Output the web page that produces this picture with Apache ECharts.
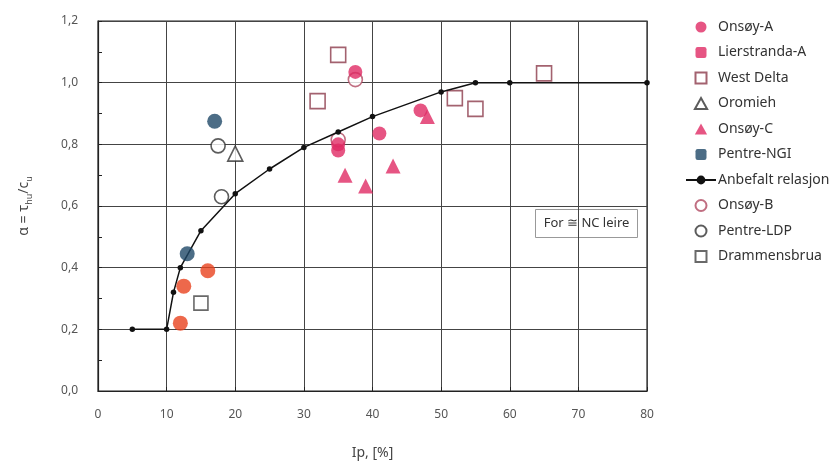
<!DOCTYPE html>
<html>
<head>
<meta charset="utf-8">
<script src="https://cdn.jsdelivr.net/npm/echarts@6/dist/echarts.min.js"></script>
<style>html,body{margin:0;padding:0;background:#fff}#c{width:838px;height:469px}</style>
</head>
<body>
<div id="c"></div>
<script>
// Recommended relation (Anbefalt relasjon)
const lineIp = [5, 10, 11, 12, 15, 20, 25, 30, 35, 40, 50, 55, 60, 80];
const lineAlpha = [0.20, 0.20, 0.32, 0.40, 0.52, 0.64, 0.72, 0.79, 0.84, 0.89, 0.97, 1.00, 1.00, 1.00];
// Measured data [Ip, alpha]
const onsoyA = [[35, 0.78], [35, 0.80], [37.5, 1.035], [41, 0.835], [47, 0.91]];
const lierstrandaA = [[12, 0.22], [12.5, 0.34], [16, 0.39]];
const westDelta = [[32, 0.94], [35, 1.09], [52, 0.95], [55, 0.915], [65, 1.03]];
const oromieh = [[20, 0.77]];
const onsoyC = [[36, 0.70], [39, 0.665], [43, 0.73], [48, 0.89]];
const pentreNGI = [[17, 0.875], [13, 0.445]];
const onsoyB = [[37.5, 1.01], [35, 0.815]];
const pentreLDP = [[17.5, 0.795], [18, 0.63]];
const drammensbrua = [[15, 0.285]];
const xTicks = [0, 10, 20, 30, 40, 50, 60, 70, 80];
const yTicks = [0, 0.2, 0.4, 0.6, 0.8, 1.0, 1.2];

const chart = echarts.init(document.getElementById('c'));
const FONT = 'Noto Sans';
const PINK = '#e02a64';
const ORANGE = '#e8421e';
const NAVY = '#1f4868';
const SQ = 'path://M0,0H10V10H0Z';
const RSQ = 'path://M2,0H8Q10,0 10,2V8Q10,10 8,10H2Q0,10 0,8V2Q0,0 2,0Z';
const TRI = 'path://M5,0L10,9H0Z';

function sc(name, data, symbol, style, z, size) {
  return { name, type: 'scatter', data, symbol, symbolSize: size || 14, itemStyle: style, z: z };
}

chart.setOption({
  animation: false,
  textStyle: { fontFamily: FONT },
  grid: { left: 98, right: 191, top: 21, bottom: 78, show: true, borderColor: '#222', borderWidth: 1.2 },
  xAxis: {
    type: 'value', min: xTicks[0], max: xTicks[xTicks.length - 1], interval: 10,
    name: 'Ip, [%]', nameLocation: 'middle', nameGap: 55,
    nameTextStyle: { fontSize: 14, color: '#444', fontFamily: FONT },
    axisLine: { lineStyle: { color: '#222', width: 1.2 } },
    axisTick: { inside: true, length: 4, lineStyle: { color: '#222' } },
    axisLabel: { margin: 18, color: '#555', fontSize: 12, fontFamily: FONT },
    splitLine: { lineStyle: { color: '#444', width: 1 } }
  },
  yAxis: {
    type: 'value', min: yTicks[0], max: yTicks[yTicks.length - 1], interval: 0.2,
    name: '{a|α = τ}{s|hu}{a|/c}{s|u}', nameLocation: 'middle', nameGap: 67, nameRotate: 90,
    nameTextStyle: {
      color: '#444', fontFamily: FONT,
      rich: {
        a: { fontSize: 14, color: '#444', fontFamily: FONT, lineHeight: 18, verticalAlign: 'bottom' },
        s: { fontSize: 9, color: '#444', fontFamily: FONT, lineHeight: 14, verticalAlign: 'bottom', padding: [0, 0, -3, 0] }
      }
    },
    axisLine: { show: true, lineStyle: { color: '#222', width: 1.2 } },
    axisTick: { show: true, inside: true, length: 4, lineStyle: { color: '#222' } },
    minorTick: { show: true, splitNumber: 2, length: 4, lineStyle: { color: '#222' } },
    axisLabel: { margin: 20, color: '#555', fontSize: 12, fontFamily: FONT,
      formatter: v => v.toFixed(1).replace('.', ',') },
    splitLine: { lineStyle: { color: '#444', width: 1 } }
  },
  legend: {
    orient: 'vertical', left: 680, top: 15, itemWidth: 30, itemHeight: 11, itemGap: 11.5,
    selectedMode: false,
    textStyle: { fontSize: 14, color: '#333', fontFamily: FONT, padding: [0, 0, 0, -3] },
    data: [
      { name: 'Onsøy-A', icon: 'circle' },
      { name: 'Lierstranda-A', icon: RSQ, itemStyle: { color: PINK } },
      { name: 'West Delta', icon: SQ },
      { name: 'Oromieh', icon: TRI },
      { name: 'Onsøy-C', icon: TRI },
      { name: 'Pentre-NGI', icon: RSQ },
      { name: 'Anbefalt relasjon' },
      { name: 'Onsøy-B', icon: 'circle' },
      { name: 'Pentre-LDP', icon: 'circle' },
      { name: 'Drammensbrua', icon: SQ }
    ]
  },
  graphic: [{
    type: 'group', left: 535, top: 209, z: 50,
    children: [
      { type: 'rect', shape: { x: 0, y: 0, width: 102, height: 28 },
        style: { fill: '#fff', stroke: '#999', lineWidth: 1 } },
      { type: 'text', x: 51, y: 14,
        style: { text: 'For ≅ NC leire', fill: '#333', font: '13px "Noto Sans"', textAlign: 'center', textVerticalAlign: 'middle' } }
    ]
  }],
  series: [
    sc('West Delta', westDelta, 'rect', { color: '#fff', borderColor: '#8c3b4b', borderWidth: 1.6 }, 3, 15),
    sc('Onsøy-B', onsoyB, 'circle', { color: '#fff', borderColor: '#b04a62', borderWidth: 1.6 }, 3, 14),
    sc('Pentre-LDP', pentreLDP, 'circle', { color: '#fff', borderColor: '#333', borderWidth: 1.6 }, 3, 14),
    sc('Drammensbrua', drammensbrua, 'rect', { color: '#fff', borderColor: '#444', borderWidth: 1.6 }, 3, 14),
    sc('Oromieh', oromieh, 'triangle', { color: '#fff', borderColor: '#333', borderWidth: 1.6 }, 3, 15),
    {
      name: 'Anbefalt relasjon', type: 'line', data: lineIp.map((x, i) => [x, lineAlpha[i]]),
      symbol: 'circle', symbolSize: 5.5, showSymbol: true, z: 4,
      lineStyle: { color: '#111', width: 1.5 }, itemStyle: { color: '#111' }
    },
    sc('Onsøy-A', onsoyA, 'circle', { color: PINK }, 5, 14),
    sc('Lierstranda-A', lierstrandaA, 'circle', { color: ORANGE }, 5, 15),
    sc('Onsøy-C', onsoyC, 'triangle', { color: PINK }, 5, 15),
    sc('Pentre-NGI', pentreNGI, 'circle', { color: NAVY }, 5, 15)
  ]
});
</script>
</body>
</html>
